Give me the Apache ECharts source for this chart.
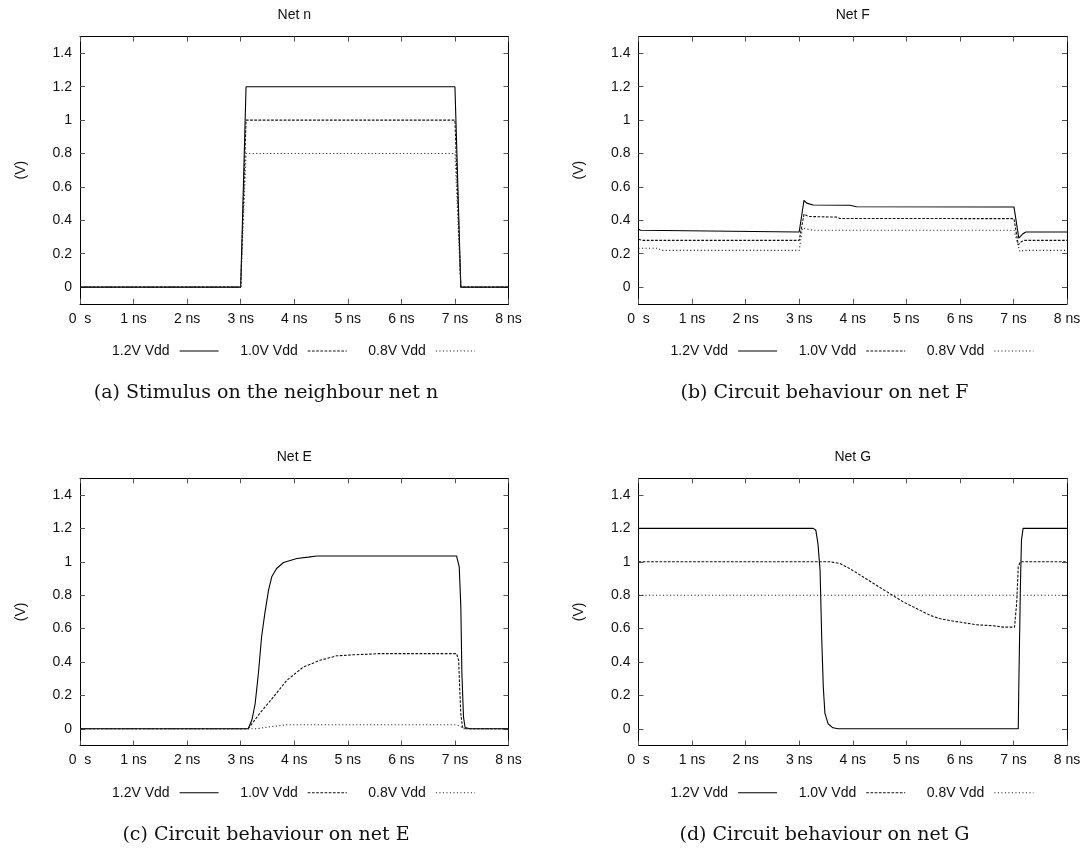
<!DOCTYPE html>
<html><head><meta charset="utf-8">
<script src="https://cdn.jsdelivr.net/npm/echarts@6/dist/echarts.min.js"></script>
<style>html,body{margin:0;padding:0;background:#fff}#c{width:1089px;height:848px}</style>
</head><body><div id="c"></div>
<script>
// ---------- DATA ----------
const seriesNames = ['1.2V Vdd', '1.0V Vdd', '0.8V Vdd'];
const panelTitles = ['Net n', 'Net F', 'Net E', 'Net G'];
const captions = ['(a) Stimulus on the neighbour net n', '(b) Circuit behaviour on net F',
                  '(c) Circuit behaviour on net E', '(d) Circuit behaviour on net G'];
const yTicks = [0, 0.2, 0.4, 0.6, 0.8, 1, 1.2, 1.4];
const xTicks = [0, 1, 2, 3, 4, 5, 6, 7, 8];
const yAxisName = '(V)';

// Net n : [time ns, volts]
const n12 = [[0,0],[3.0,0],[3.1,1.2],[7.0,1.2],[7.11,0],[8,0]];
const n10 = [[0,0],[3.0,0],[3.1,1.0],[7.0,1.0],[7.11,0],[8,0]];
const n08 = [[0,0],[3.0,0],[3.1,0.8],[7.0,0.8],[7.11,0],[8,0]];

// Net F
const F12 = [[0,0.347],[0.04,0.34],[0.07,0.33],[3.0,0.33],[3.09,0.52],[3.14,0.503],[3.26,0.492],[3.95,0.49],[4.07,0.481],[7.01,0.48],[7.10,0.293],[7.18,0.32],[7.23,0.33],[8,0.33]];
const F10 = [[0,0.287],[0.07,0.28],[3.0,0.28],[3.09,0.437],[3.17,0.423],[3.70,0.419],[3.76,0.411],[7.01,0.41],[7.09,0.253],[7.15,0.273],[7.2,0.28],[8,0.28]];
const F08 = [[0,0.233],[0.37,0.233],[0.42,0.22],[3.0,0.22],[3.06,0.353],[3.26,0.34],[7.01,0.34],[7.12,0.213],[7.2,0.22],[8,0.22]];

// Net E
const E12 = [[0,0],[3.14,0],[3.21,0.054],[3.27,0.15],[3.33,0.33],[3.39,0.55],[3.45,0.69],[3.52,0.83],[3.58,0.91],[3.67,0.96],[3.80,0.996],[4.05,1.02],[4.26,1.028],[4.42,1.035],[7.03,1.035],[7.08,0.97],[7.11,0.73],[7.13,0.33],[7.16,0.07],[7.19,0.008],[7.28,0],[8,0]];
const E10 = [[0,0],[3.14,0],[3.36,0.094],[3.61,0.19],[3.86,0.29],[4.17,0.37],[4.48,0.41],[4.79,0.437],[5.10,0.443],[5.41,0.447],[5.57,0.45],[7.03,0.45],[7.07,0.41],[7.09,0.23],[7.11,0.09],[7.14,0.01],[7.2,0],[8,0]];
const E08 = [[0,0],[3.30,0],[3.49,0.01],[3.86,0.024],[7.03,0.024],[7.05,0.03],[7.10,0.015],[7.16,0],[8,0]];

// Net G
const G12 = [[0,1.2],[3.26,1.2],[3.31,1.19],[3.35,1.11],[3.39,0.95],[3.42,0.55],[3.45,0.25],[3.48,0.094],[3.54,0.03],[3.63,0.006],[3.73,0],[7.09,0],[7.10,0.25],[7.13,0.85],[7.15,1.13],[7.18,1.2],[8,1.2]];
const G10 = [[0,1.0],[3.57,1.0],[3.76,0.99],[3.94,0.96],[4.19,0.91],[4.44,0.86],[4.69,0.81],[4.94,0.76],[5.19,0.72],[5.44,0.68],[5.62,0.66],[5.81,0.648],[6.06,0.636],[6.31,0.623],[6.62,0.617],[6.81,0.609],[7.02,0.609],[7.06,0.75],[7.09,0.97],[7.13,1.0],[8,1.0]];
const G08 = [[0,0.8],[8,0.8]];

const panelData = [[n12, n10, n08], [F12, F10, F08], [E12, E10, E08], [G12, G10, G08]];

// ---------- LAYOUT / STYLE ----------
const grids = [
  {left: 80,    top: 36.6,  width: 428.5, height: 267.2},
  {left: 638.5, top: 36.6,  width: 428.5, height: 267.2},
  {left: 80,    top: 478.3, width: 428.5, height: 267.2},
  {left: 638.5, top: 478.3, width: 428.5, height: 267.2}
];
const legendPos = [{left: 112, top: 344}, {left: 670.5, top: 344}, {left: 112, top: 785.7}, {left: 670.5, top: 785.7}];
const titlePos = [[294.25, 15], [852.75, 15], [294.25, 456.7], [852.75, 456.7]];
const captionPos = [[266, 393], [824.5, 393], [266, 834.7], [824.5, 834.7]];
const dashTypes = ['solid', [2.7, 1.5], [1.1, 2.4]];
const lineColors = ['#000', '#111', '#222'];
const sansFont = 'Liberation Sans, Arial, sans-serif';
const textColor = '#111';

const xAxes = [], yAxes = [], series = [], legends = [], graphics = [];
const tickStyle = {show: true, inside: true, length: 5, lineStyle: {color: '#555', width: 1}};
const frameLine = {show: true, onZero: false, lineStyle: {color: '#000', width: 1}};

grids.forEach((g, i) => {
  xAxes.push({
    type: 'value', gridIndex: i, position: 'bottom', min: 0, max: 8, interval: 1,
    axisLine: frameLine, axisTick: tickStyle, splitLine: {show: false},
    axisLabel: {color: textColor, fontFamily: sansFont, fontSize: 14, margin: 8,
      formatter: v => (v === 0 ? '0  s' : v + ' ns')}
  });
  yAxes.push({
    type: 'value', gridIndex: i, position: 'left', min: -0.1, max: 1.5,
    name: yAxisName, nameLocation: 'middle', nameGap: 52, nameRotate: 90,
    nameTextStyle: {color: textColor, fontFamily: sansFont, fontSize: 14},
    axisLine: frameLine, splitLine: {show: false},
    axisTick: Object.assign({}, tickStyle, {customValues: yTicks}),
    axisLabel: {color: textColor, fontFamily: sansFont, fontSize: 14, margin: 8, customValues: yTicks}
  });
});
grids.forEach((g, i) => {
  xAxes.push({
    type: 'value', gridIndex: i, position: 'top', min: 0, max: 8, interval: 1,
    axisLine: frameLine, axisTick: tickStyle, splitLine: {show: false}, axisLabel: {show: false}
  });
  yAxes.push({
    type: 'value', gridIndex: i, position: 'right', min: -0.1, max: 1.5,
    axisLine: frameLine, splitLine: {show: false},
    axisTick: Object.assign({}, tickStyle, {customValues: yTicks}),
    axisLabel: {show: false, customValues: yTicks}
  });
});

panelData.forEach((sets, i) => {
  sets.forEach((d, k) => {
    series.push({
      type: 'line', name: seriesNames[k], xAxisIndex: i, yAxisIndex: i,
      data: d, symbol: 'none', showSymbol: false, silent: true,
      lineStyle: {color: lineColors[k], width: 1.1, type: dashTypes[k]},
      itemStyle: {color: lineColors[k]}
    });
  });
  legends.push({
    data: seriesNames, left: legendPos[i].left, top: legendPos[i].top, orient: 'horizontal',
    align: 'right', itemWidth: 39, itemHeight: 14, itemGap: 21, padding: 0,
    selectedMode: false,
    textStyle: {color: textColor, fontFamily: sansFont, fontSize: 14, padding: [0, 5, 0, 0]},
    lineStyle: {width: 1.1},
    itemStyle: {opacity: 0, borderWidth: 0}
  });
  graphics.push({
    type: 'text', x: titlePos[i][0], y: titlePos[i][1],
    style: {text: panelTitles[i], fill: textColor, font: '14px ' + sansFont, textAlign: 'center', textVerticalAlign: 'middle'}
  });
  graphics.push({
    type: 'text', x: captionPos[i][0], y: captionPos[i][1],
    style: {text: captions[i], fill: '#111', font: '19px "DejaVu Serif", serif', textAlign: 'center', textVerticalAlign: 'middle'}
  });
});

const chart = echarts.init(document.getElementById('c'), null, {renderer: 'canvas'});
chart.setOption({
  animation: false,
  backgroundColor: '#fff',
  grid: grids.map(g => Object.assign({containLabel: false, show: false}, g)),
  xAxis: xAxes, yAxis: yAxes, series: series, legend: legends, graphic: graphics
});
</script></body></html>
